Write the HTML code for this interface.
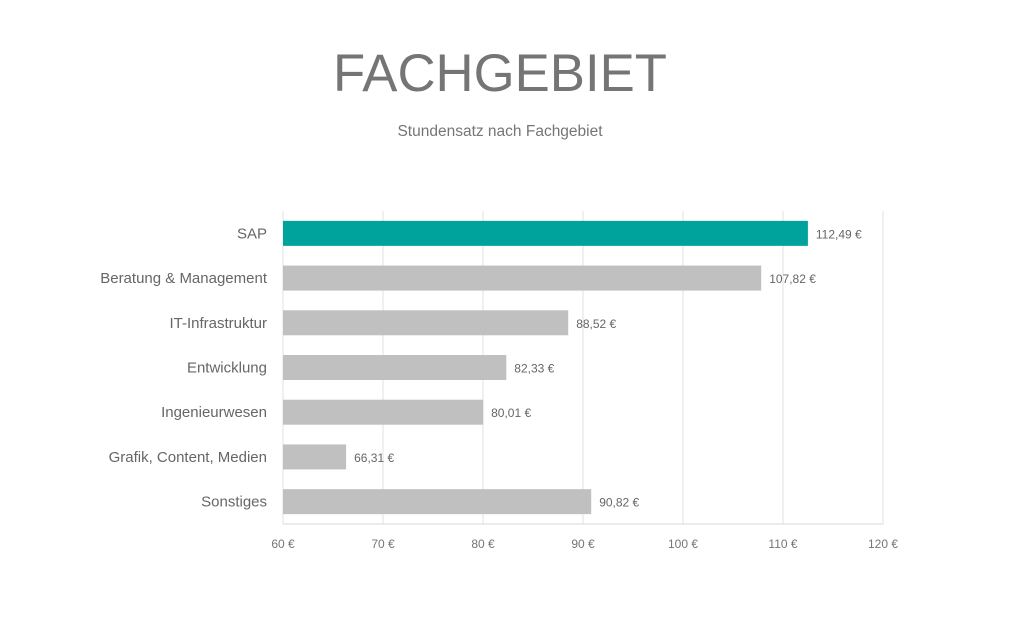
<!DOCTYPE html>
<html><head><meta charset="utf-8"><style>
body{margin:0;background:#fff;width:1024px;height:612px;overflow:hidden;font-family:"Liberation Sans",sans-serif}
</style></head><body>
<svg width="1024" height="612">
<text x="500" y="91" text-anchor="middle" font-size="53" fill="#757575" textLength="334" lengthAdjust="spacingAndGlyphs">FACHGEBIET</text>
<text x="500" y="136" text-anchor="middle" font-size="15.5" fill="#757575">Stundensatz nach Fachgebiet</text>
<g id="grid"></g><g id="bars"></g><g id="labels"></g>
</svg>
<script>
const categories=["SAP","Beratung & Management","IT-Infrastruktur","Entwicklung","Ingenieurwesen","Grafik, Content, Medien","Sonstiges"];
const values=[112.49,107.82,88.52,82.33,80.01,66.31,90.82];
const valueLabels=["112,49 €","107,82 €","88,52 €","82,33 €","80,01 €","66,31 €","90,82 €"];
const ticks=[60,70,80,90,100,110,120];
const tickLabels=["60 €","70 €","80 €","90 €","100 €","110 €","120 €"];
const NS="http://www.w3.org/2000/svg";
const x0=283,x1=883,plotTop=211,plotBottom=524,min=60,max=120;
const X=v=>x0+(v-min)/(max-min)*(x1-x0);
const band=(plotBottom-plotTop)/categories.length;
const Y=i=>plotTop+band*i+band/2;
function mk(tag,attrs,parent){const e=document.createElementNS(NS,tag);for(const k in attrs)e.setAttribute(k,attrs[k]);parent.appendChild(e);return e;}
const g=document.getElementById('grid'),b=document.getElementById('bars'),l=document.getElementById('labels');
ticks.forEach((t,i)=>{
 const ln=mk('line',{x1:X(t),x2:X(t),y1:plotTop,y2:plotBottom,stroke:'#e0e0e0','stroke-width':1},g);
 
 
 const tx=mk('text',{x:X(t),y:548,'text-anchor':'middle','font-size':12,fill:'#757575'},l);
 tx.textContent=tickLabels[i];
 
 
});
const ax=mk('line',{x1:x0,x2:x1,y1:plotBottom,y2:plotBottom,stroke:'#d9d9d9'},g);


categories.forEach((c,i)=>{
 const y=Y(i),h=25;
 const r=mk('rect',{x:x0,y:y-h/2,width:X(values[i])-x0,height:h,fill:i===0?'#00a39c':'#c0c0c0'},b);
 
 
 const ct=mk('text',{x:267,y:y+5,'text-anchor':'end','font-size':15,fill:'#666'},l);
 ct.textContent=c;
 
 
 const vt=mk('text',{x:X(values[i])+8,y:y+5,'font-size':12,fill:'#666'},l);
 vt.textContent=valueLabels[i];
 
 
});
</script>
</body></html>
